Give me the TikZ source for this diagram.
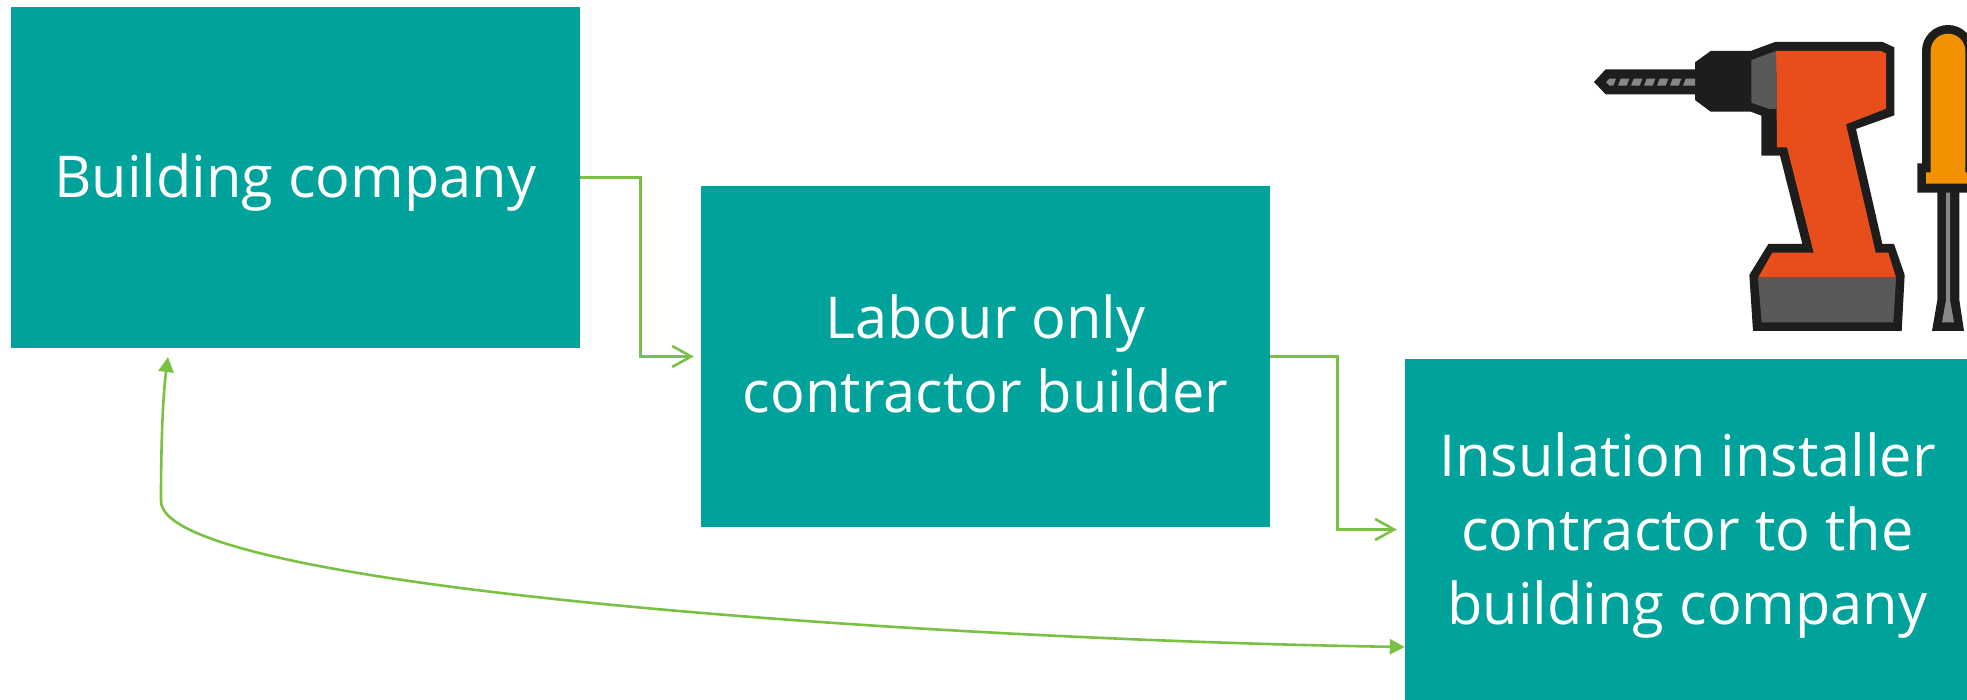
\documentclass[tikz,border=0pt]{standalone}
\usepackage{fontspec}
\setmainfont{Open Sans}
\usetikzlibrary{arrows.meta}
\definecolor{teal1}{RGB}{0,163,155}
\definecolor{green1}{RGB}{122,193,67}
\definecolor{ink}{RGB}{29,29,27}
\definecolor{drillred}{RGB}{232,78,27}
\definecolor{handle}{RGB}{243,146,0}
\definecolor{darkgrey}{RGB}{88,89,91}
\definecolor{midgrey}{RGB}{135,135,135}
\tikzset{
  stepbox/.style={fill=teal1,draw=none,minimum width=569pt,minimum height=341pt,inner sep=0pt},
  boxtext/.style={text=white,inner sep=0pt,align=center,font=\fontsize{57.7}{74}\selectfont},
  link/.style={draw=green1,line width=2.6pt},
  openhead/.style={-{Straight Barb[length=19pt,width=21pt,line width=2.6pt]},shorten >=7pt},
  solidend/.style={-{Triangle[length=15pt,width=15pt]}},
}
\begin{document}
\begin{tikzpicture}[x=1pt,y=-1pt]
\useasboundingbox (0,0) rectangle (1967,700);
\clip (0,0) rectangle (1967,700);
\node[stepbox] (company) at (295.5,177.5) {};
\node[stepbox] (labour) at (985.5,356.5) {};
\node[stepbox,minimum width=565pt] (installer) at (1687.5,529.5) {};
\node[boxtext,yshift=-5pt] (companytext) at (company.center) {Building company};
\node[boxtext,yshift=2.5pt] (labourtext) at (labour.center) {Labour only\\contractor builder};
\node[boxtext,yshift=-6pt] (installertext) at (installer.center) {Insulation installer\\contractor to the\\building company};
\coordinate (bendA) at (640.5,356.5);
\coordinate (bendB) at (1337.5,529.5);
\coordinate (curveStart) at (installer.west |- 0,647);
\coordinate (curveEnd) at (168,357);
\coordinate (curveKnee) at (161,501);
\draw[link,openhead] (company.east) -| (bendA) -- (labour.west);
\draw[link,openhead,shorten >=8pt] (labour.east) -| (bendB) -- (installer.west);
\draw[link,solidend] (curveKnee) .. controls (161,440) and (163,395) .. (curveEnd);
\draw[link,solidend] (curveKnee) .. controls (161,590) and (950,640) .. (curveStart);
\begin{scope}[shift={(1560,0)},x=0.33333pt,y=-0.33333pt]
  \fill[ink] (102,246) -- (137,208) -- (405,208) -- (405,187) -- (452,153) -- (572,153) -- (645,126) -- (968,126) -- (1003,142) -- (1003,346) -- (888,387) -- (967,732) -- (1002,732) -- (1034,825) -- (1025,993) -- (579,993) -- (568,825) -- (625,732) -- (727,732) -- (660,467) -- (604,467) -- (604,347) -- (572,335) -- (452,335) -- (405,300) -- (405,283) -- (137,283) -- cycle;
  \fill[drillred] (648,153) -- (962,153) -- (978,160) -- (978,326) -- (858,373) -- (947,758) -- (985,758) -- (1008,833) -- (594,833) -- (637,758) -- (761,758) -- (681,442) -- (651,442) -- cycle;
  \fill[darkgrey] (574,180) -- (648,153) -- (651,327) -- (628,327) -- (574,308) -- cycle;
  \fill[darkgrey] (594,833) -- (1008,833) -- (1000,967) -- (605,967) -- cycle;
  \fill[midgrey] (138,246) -- (148,236) -- (168,236) -- (160,257) -- (148,257) -- cycle;
  \foreach \s in {174,213,252,291,330}{
    \fill[midgrey] (\s,257) -- (\s+8,236) -- (\s+34,236) -- (\s+26,257) -- cycle;
  }
  \fill[midgrey] (369,257) -- (377,236) -- (405,236) -- (405,257) -- cycle;
  \fill[ink] (1072,490) -- (1086,490) -- (1086,153) arc[start angle=180,end angle=360,radius=78] -- (1242,490) -- (1256,490) -- (1256,578) -- (1198,578) -- (1198,900) -- (1212,993) -- (1116,993) -- (1132,900) -- (1132,578) -- (1072,578) -- cycle;
  \fill[handle] (1098,517) -- (1112,517) -- (1112,153) arc[start angle=180,end angle=360,radius=52] -- (1216,517) -- (1230,517) -- (1230,551) -- (1098,551) -- cycle;
  \fill[midgrey] (1158,578) -- (1170,578) -- (1170,900) -- (1182,967) -- (1146,967) -- (1158,900) -- cycle;
\end{scope}
\end{tikzpicture}
\end{document}
